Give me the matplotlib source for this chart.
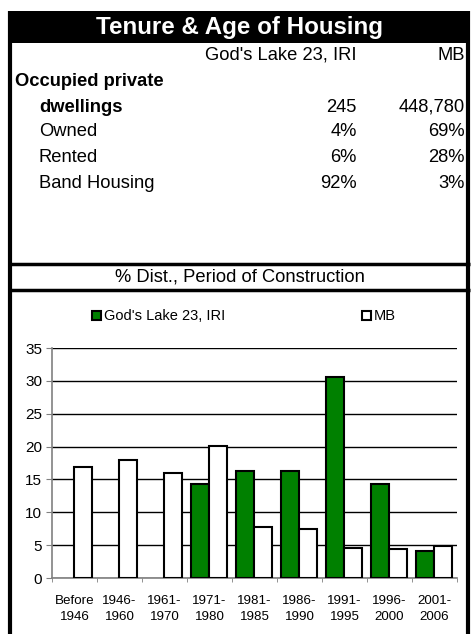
import matplotlib
matplotlib.use("Agg")
import matplotlib.pyplot as plt
import numpy as np
from matplotlib.patches import Rectangle

plt.rcParams['font.family'] = ['Liberation Sans', 'DejaVu Sans']

# ---- data ----
title = "Tenure & Age of Housing"
col_headers = ["God's Lake 23, IRI", "MB"]
row_labels = ["dwellings", "Owned", "Rented", "Band Housing"]
gods_table = ["245", "4%", "6%", "92%"]
mb_table = ["448,780", "69%", "28%", "3%"]
section_title = "% Dist., Period of Construction"

categories = ["Before\n1946", "1946-\n1960", "1961-\n1970", "1971-\n1980", "1981-\n1985",
              "1986-\n1990", "1991-\n1995", "1996-\n2000", "2001-\n2006"]
gods_lake = [0, 0, 0, 14.3, 16.3, 16.3, 30.6, 14.3, 4.1]
mb = [16.9, 17.9, 16.0, 20.1, 7.7, 7.4, 4.6, 4.4, 4.8]
series_names = ["God's Lake 23, IRI", "MB"]
yticks = [0, 5, 10, 15, 20, 25, 30, 35]

W, H = 477, 634
fig = plt.figure(figsize=(W / 100, H / 100), dpi=100)

# overlay in pixel coordinates
ov = fig.add_axes([0, 0, 1, 1])
ov.set_xlim(0, W)
ov.set_ylim(H, 0)
ov.axis('off')

# title band
ov.add_patch(Rectangle((9, 11), 461, 32, facecolor='black', edgecolor='none'))
ov.text(240, 27.5, title, color='white', fontsize=17.4, fontweight='bold',
        ha='center', va='center')
# borders
kw = dict(color='black', solid_capstyle='butt')
ov.plot([10.5, 10.5], [11, H], lw=3, **kw)
ov.plot([468.5, 468.5], [11, H], lw=3, **kw)
ov.plot([9, 470], [264, 264], lw=2.5, **kw)
ov.plot([9, 470], [289.5, 289.5], lw=2.5, **kw)

fs = 13.2
ov.text(357, 55, col_headers[0], fontsize=fs, ha='right', va='center')
ov.text(465, 55, col_headers[1], fontsize=fs, ha='right', va='center')
ov.text(15, 81, "Occupied private", fontsize=fs, fontweight='bold', ha='left', va='center')
row_y = [107, 131, 158, 184]
for i, (lab, g, m) in enumerate(zip(row_labels, gods_table, mb_table)):
    ov.text(39, row_y[i], lab, fontsize=fs, ha='left', va='center',
            fontweight='bold' if i == 0 else 'normal')
    ov.text(357, row_y[i], g, fontsize=fs, ha='right', va='center')
    ov.text(465, row_y[i], m, fontsize=fs, ha='right', va='center')

ov.text(240, 276.5, section_title, fontsize=fs, ha='center', va='center')

# chart axes
x0, x1, ytop, ybot = 52, 457, 348, 578
ax = fig.add_axes([x0 / W, (H - ybot) / H, (x1 - x0) / W, (ybot - ytop) / H])
ax.set_facecolor('none')
x = np.arange(len(categories))
bw = 0.4
green = '#008000'
for xi, v in zip(x, gods_lake):
    if v > 0:
        ax.bar(xi - bw / 2, v, bw, color=green, edgecolor='black', linewidth=1.5, zorder=3)
for xi, v in zip(x, mb):
    ax.bar(xi + bw / 2, v, bw, color='white', edgecolor='black', linewidth=1.5, zorder=3)

ax.set_xlim(-0.5, len(categories) - 0.5)
ax.set_ylim(0, 35)
ax.set_yticks(yticks)
ax.yaxis.grid(True, color='black', lw=1)
ax.set_axisbelow(True)
ax.tick_params(axis='y', labelsize=11, length=4, color='#808080', pad=3)
ax.set_xticks(x)
ax.set_xticklabels(categories, fontsize=9.6, linespacing=1.45)
ax.tick_params(axis='x', length=0, pad=12)
ax.set_xticks(np.arange(len(categories) + 1) - 0.5, minor=True)
ax.tick_params(axis='x', which='minor', length=3, color='#808080')
for s in ['top', 'right']:
    ax.spines[s].set_visible(False)
for s in ['left', 'bottom']:
    ax.spines[s].set_color('#808080')
    ax.spines[s].set_linewidth(1.2)

# legend (manual, matching the reference layout)
ov.add_patch(Rectangle((92, 311), 9, 9, facecolor=green, edgecolor='black', lw=1.5))
ov.text(104, 316, series_names[0], fontsize=10.5, ha='left', va='center')
ov.add_patch(Rectangle((362, 311), 9, 9, facecolor='white', edgecolor='black', lw=1.5))
ov.text(374, 316, series_names[1], fontsize=10.5, ha='left', va='center')

fig.savefig("out.png", dpi=100)
